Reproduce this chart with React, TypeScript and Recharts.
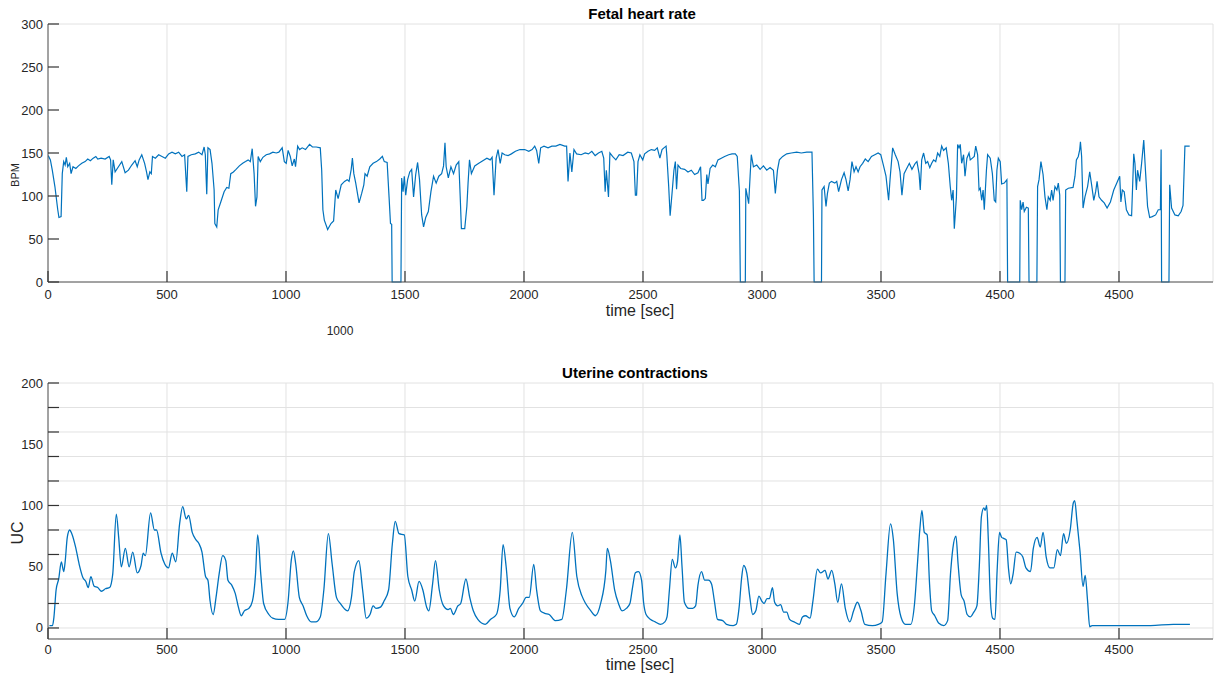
import { LineChart, Line, XAxis, YAxis, CartesianGrid } from "recharts";

const FONT = '"Liberation Sans", Arial, Helvetica, sans-serif';
const BLUE = "#0072BD";
const AXIS = "#555555";
const MARK_COLOR = "#333333";
const GRID = "#e2e2e2";
const TEXT = "#262626";
const MARK = 11;

// x axis (seconds) – the picture labels the 4000 tick "4500" as well
const X_TICKS = [0, 500, 1000, 1500, 2000, 2500, 3000, 3500, 4000, 4500];
const X_TICK_LABELS = ["0", "500", "1000", "1500", "2000", "2500", "3000", "3500", "4500", "4500"];
const X_MAX = 4895;

const FHR_TICKS = [0, 50, 100, 150, 200, 250, 300];
const UC_LABEL_TICKS = [0, 50, 100, 150, 200];
const UC_GRID_TICKS = [0, 20, 40, 60, 80, 100, 120, 140, 160, 180, 200];
const UC_ALL_TICKS = [0, 20, 40, 50, 60, 80, 100, 120, 140, 150, 160, 180, 200];

// fetal heart rate
const FHR_TIME = [
  1, 10, 18, 29, 41, 46, 55, 60, 66, 72, 77, 83, 91, 97, 105, 117, 128, 142, 156, 167, 178, 190, 201, 209, 223, 240,
  257, 263, 268, 274, 282, 296, 310, 324, 338, 352, 366, 375, 383, 394, 406, 414, 420, 428, 434, 439, 451, 465, 479,
  493, 507, 521, 535, 549, 563, 574, 583, 588, 602, 619, 633, 647, 656, 661, 667, 672, 681, 689, 698, 701, 709, 715,
  726, 740, 751, 760, 768, 779, 790, 804, 818, 830, 841, 850, 858, 866, 872, 878, 883, 892, 903, 917, 931, 945, 959,
  970, 984, 993, 1001, 1009, 1018, 1026, 1035, 1040, 1049, 1057, 1068, 1082, 1099, 1111, 1127, 1144, 1150, 1155, 1161,
  1175, 1189, 1200, 1209, 1219, 1232, 1246, 1257, 1265, 1274, 1279, 1285, 1293, 1307, 1318, 1327, 1332, 1341, 1352,
  1366, 1380, 1394, 1405, 1413, 1425, 1433, 1439, 1444, 1446, 1483, 1486, 1492, 1497, 1503, 1511, 1520, 1528, 1536,
  1545, 1553, 1561, 1570, 1578, 1587, 1598, 1609, 1620, 1631, 1642, 1654, 1662, 1668, 1673, 1682, 1693, 1704, 1715,
  1726, 1732, 1737, 1751, 1760, 1765, 1771, 1779, 1793, 1810, 1827, 1844, 1858, 1866, 1874, 1883, 1891, 1900, 1908,
  1919, 1933, 1947, 1964, 1983, 2003, 2020, 2034, 2045, 2053, 2062, 2070, 2084, 2101, 2117, 2134, 2151, 2171, 2179,
  2185, 2193, 2201, 2210, 2221, 2240, 2257, 2271, 2285, 2299, 2313, 2327, 2335, 2341, 2346, 2355, 2361, 2372, 2386,
  2400, 2416, 2436, 2451, 2462, 2468, 2473, 2479, 2487, 2499, 2507, 2521, 2535, 2549, 2560, 2571, 2580, 2588, 2597,
  2600, 2608, 2614, 2622, 2630, 2636, 2641, 2647, 2658, 2675, 2689, 2703, 2717, 2731, 2742, 2748, 2754, 2762, 2768,
  2773, 2782, 2793, 2804, 2815, 2829, 2843, 2860, 2874, 2888, 2896, 2905, 2909, 2930, 2932, 2939, 2944, 2950, 2955,
  2964, 2978, 2992, 3006, 3020, 3034, 3048, 3056, 3065, 3073, 3087, 3104, 3123, 3146, 3165, 3188, 3210, 3216, 3219,
  3250, 3252, 3261, 3269, 3275, 3283, 3292, 3306, 3314, 3322, 3334, 3345, 3353, 3362, 3370, 3378, 3387, 3395, 3404,
  3412, 3423, 3434, 3446, 3460, 3474, 3488, 3499, 3510, 3521, 3532, 3538, 3549, 3560, 3572, 3580, 3588, 3597, 3608,
  3619, 3630, 3644, 3651, 3660, 3665, 3671, 3679, 3688, 3696, 3705, 3713, 3721, 3730, 3738, 3747, 3755, 3763, 3774,
  3783, 3791, 3797, 3803, 3808, 3817, 3822, 3828, 3833, 3839, 3847, 3853, 3861, 3870, 3875, 3884, 3892, 3898, 3906,
  3912, 3917, 3923, 3929, 3934, 3943, 3948, 3959, 3968, 3976, 3982, 3987, 3993, 4001, 4007, 4018, 4029, 4032, 4083,
  4085, 4091, 4097, 4102, 4111, 4119, 4122, 4155, 4158, 4164, 4172, 4181, 4189, 4197, 4203, 4211, 4217, 4223, 4231,
  4239, 4245, 4251, 4254, 4273, 4276, 4287, 4307, 4315, 4321, 4329, 4335, 4338, 4343, 4349, 4357, 4368, 4377, 4385,
  4394, 4402, 4408, 4416, 4427, 4438, 4450, 4464, 4478, 4489, 4503, 4508, 4514, 4522, 4531, 4542, 4553, 4562, 4567,
  4573, 4578, 4587, 4595, 4604, 4612, 4620, 4629, 4640, 4654, 4665, 4674, 4677, 4679, 4710, 4713, 4721, 4735, 4749,
  4761, 4769, 4777, 4797,
];
const FHR_BPM = [
  147, 142, 130, 111, 84, 75, 76, 126, 140, 136, 145, 134, 138, 126, 134, 132, 135, 138, 140, 143, 141, 144, 146, 143,
  144, 143, 146, 142, 113, 142, 128, 134, 140, 127, 130, 136, 141, 134, 142, 148, 138, 128, 119, 128, 126, 146, 144,
  148, 146, 144, 149, 151, 149, 151, 146, 148, 105, 146, 148, 149, 151, 148, 157, 148, 102, 156, 154, 138, 107, 68, 64,
  84, 93, 105, 110, 109, 126, 128, 131, 135, 138, 140, 142, 140, 155, 126, 88, 99, 146, 140, 145, 148, 149, 151, 150,
  151, 156, 140, 138, 153, 146, 135, 143, 134, 158, 154, 156, 154, 160, 157, 157, 156, 130, 84, 72, 61, 68, 71, 107,
  97, 113, 117, 119, 117, 131, 144, 126, 115, 92, 103, 113, 126, 123, 134, 138, 140, 143, 146, 140, 139, 99, 68, 67, 0,
  0, 121, 105, 123, 101, 119, 128, 131, 99, 125, 139, 119, 78, 64, 75, 82, 105, 123, 115, 123, 126, 135, 162, 134, 121,
  134, 126, 136, 140, 99, 62, 62, 88, 115, 142, 126, 135, 138, 141, 144, 142, 145, 101, 144, 154, 138, 150, 148, 147,
  149, 152, 154, 154, 152, 154, 158, 153, 138, 156, 158, 156, 158, 158, 160, 158, 158, 117, 150, 128, 154, 149, 148,
  150, 149, 152, 147, 150, 152, 144, 105, 130, 99, 150, 146, 142, 148, 147, 151, 150, 140, 101, 101, 140, 148, 142,
  149, 152, 154, 153, 156, 144, 154, 156, 158, 148, 111, 77, 103, 130, 140, 108, 136, 132, 131, 128, 130, 125, 127,
  134, 95, 95, 97, 125, 114, 132, 136, 134, 142, 144, 146, 148, 149, 149, 146, 106, 0, 0, 109, 99, 91, 123, 148, 134,
  136, 131, 135, 130, 133, 130, 103, 130, 142, 146, 149, 150, 151, 150, 151, 151, 78, 0, 0, 107, 111, 88, 103, 115,
  117, 115, 117, 105, 119, 127, 119, 106, 119, 140, 128, 134, 128, 134, 138, 143, 140, 146, 148, 150, 148, 136, 123,
  95, 119, 156, 148, 140, 128, 101, 126, 132, 138, 131, 138, 140, 126, 107, 142, 150, 138, 140, 133, 138, 142, 140,
  150, 146, 158, 153, 156, 138, 111, 95, 107, 62, 99, 160, 156, 160, 138, 148, 123, 144, 150, 142, 144, 146, 158, 148,
  107, 109, 95, 107, 84, 130, 148, 144, 126, 95, 93, 130, 144, 140, 114, 115, 119, 0, 0, 95, 84, 93, 82, 87, 86, 0, 0,
  111, 119, 140, 125, 99, 84, 99, 95, 107, 95, 111, 107, 115, 101, 0, 0, 107, 109, 110, 123, 142, 146, 154, 163, 146,
  86, 99, 111, 128, 113, 95, 105, 117, 99, 95, 92, 86, 93, 107, 114, 123, 93, 107, 105, 84, 78, 77, 149, 138, 107, 130,
  117, 138, 165, 126, 88, 75, 76, 78, 84, 84, 154, 0, 0, 113, 86, 78, 77, 82, 89, 158, 158,
];

// uterine contractions
const UC_TIME = [
  6, 19, 25, 34, 45, 56, 66, 72, 81, 91, 100, 116, 131, 147, 159, 169, 180, 194, 209, 225, 241, 259, 272, 287, 297,
  308, 325, 341, 356, 375, 391, 400, 409, 431, 447, 456, 475, 491, 506, 522, 537, 553, 566, 581, 591, 606, 622, 634,
  647, 662, 672, 681, 694, 706, 719, 734, 747, 756, 772, 787, 800, 812, 825, 844, 859, 872, 881, 894, 906, 928, 944,
  969, 994, 1009, 1022, 1031, 1041, 1056, 1072, 1087, 1106, 1125, 1144, 1159, 1178, 1194, 1212, 1228, 1244, 1259, 1275,
  1287, 1306, 1322, 1337, 1353, 1366, 1378, 1397, 1412, 1431, 1447, 1459, 1475, 1497, 1512, 1528, 1541, 1559, 1575,
  1591, 1600, 1616, 1628, 1644, 1662, 1681, 1691, 1703, 1722, 1734, 1756, 1772, 1787, 1806, 1837, 1859, 1884, 1900,
  1912, 1925, 1941, 1959, 1978, 1994, 2009, 2022, 2041, 2053, 2069, 2087, 2106, 2131, 2159, 2178, 2203, 2222, 2244,
  2259, 2281, 2300, 2322, 2344, 2350, 2363, 2381, 2397, 2412, 2430, 2445, 2456, 2468, 2481, 2494, 2503, 2513, 2532,
  2551, 2573, 2592, 2601, 2611, 2623, 2636, 2645, 2655, 2664, 2674, 2693, 2709, 2721, 2731, 2746, 2759, 2775, 2788,
  2800, 2813, 2835, 2851, 2879, 2892, 2904, 2914, 2923, 2936, 2949, 2961, 2974, 2987, 2999, 3009, 3021, 3031, 3044,
  3053, 3066, 3078, 3091, 3104, 3116, 3135, 3157, 3170, 3183, 3202, 3214, 3233, 3246, 3265, 3277, 3293, 3306, 3318,
  3334, 3350, 3369, 3385, 3401, 3416, 3432, 3464, 3489, 3505, 3521, 3540, 3552, 3568, 3584, 3603, 3625, 3641, 3653,
  3663, 3672, 3682, 3694, 3704, 3713, 3726, 3742, 3764, 3780, 3792, 3802, 3815, 3824, 3837, 3849, 3862, 3875, 3890,
  3903, 3913, 3922, 3932, 3938, 3944, 3951, 3960, 3969, 3979, 3988, 3998, 4007, 4017, 4026, 4036, 4045, 4055, 4068,
  4083, 4096, 4109, 4128, 4140, 4156, 4169, 4181, 4194, 4210, 4226, 4241, 4254, 4267, 4279, 4295, 4308, 4314, 4323,
  4336, 4349, 4358, 4368, 4377, 4387, 4475, 4633, 4728, 4798,
];
const UC_VALUE = [
  2, 2, 9, 31, 40, 54, 46, 54, 74, 80, 77, 66, 52, 41, 38, 33, 42, 34, 33, 30, 32, 33, 44, 93, 74, 50, 65, 50, 62, 45,
  51, 61, 59, 94, 80, 80, 61, 52, 49, 61, 54, 85, 99, 89, 92, 78, 72, 69, 62, 42, 39, 22, 11, 25, 44, 59, 55, 39, 35,
  28, 17, 10, 14, 16, 22, 44, 76, 44, 20, 11, 8, 7, 7, 22, 55, 63, 52, 25, 18, 10, 5, 5, 9, 31, 77, 52, 25, 20, 16, 14,
  25, 46, 55, 31, 8, 11, 18, 16, 17, 22, 31, 69, 87, 77, 76, 42, 31, 22, 38, 31, 17, 14, 36, 55, 31, 18, 15, 16, 11, 18,
  20, 40, 25, 14, 7, 3, 7, 11, 31, 68, 50, 16, 9, 16, 20, 25, 25, 52, 31, 14, 12, 11, 6, 7, 31, 78, 42, 26, 20, 14, 10,
  20, 47, 65, 55, 31, 20, 14, 16, 20, 33, 45, 46, 39, 20, 11, 7, 5, 3, 5, 9, 31, 56, 49, 54, 76, 50, 21, 16, 16, 18, 35,
  46, 39, 39, 36, 22, 7, 6, 3, 2, 3, 17, 40, 51, 45, 25, 11, 14, 26, 22, 20, 24, 24, 33, 21, 18, 19, 13, 13, 7, 5, 3,
  9, 10, 8, 22, 48, 45, 47, 40, 47, 36, 21, 36, 16, 5, 14, 21, 14, 3, 2, 3, 5, 44, 85, 72, 28, 9, 3, 3, 20, 52, 80, 96,
  78, 76, 36, 14, 10, 4, 2, 6, 44, 65, 75, 52, 27, 22, 11, 9, 13, 18, 50, 91, 98, 96, 100, 72, 22, 8, 7, 47, 78, 74, 73,
  72, 48, 36, 44, 62, 61, 58, 49, 46, 65, 74, 66, 78, 58, 49, 49, 64, 59, 77, 69, 80, 102, 104, 88, 63, 34, 43, 22, 1,
  2, 2, 2, 3, 3,
];

const fhrData = FHR_TIME.map((t, i) => ({ t, v: FHR_BPM[i] }));
const ucData = UC_TIME.map((t, i) => ({ t, v: UC_VALUE[i] }));

const xLabel = (v: number) => X_TICK_LABELS[X_TICKS.indexOf(v)] ?? String(v);

// MATLAB-style ticks: short marks pointing into the plot, labels outside
const yTick = (labels: number[] | null, marks: number[], side: "left" | "right") => (props: any) => {
  const { x, y, payload } = props;
  const v = payload.value as number;
  const dir = side === "left" ? 1 : -1;
  return (
    <g>
      {marks.includes(v) && (
        <line x1={x} x2={x + dir * MARK} y1={y} y2={y} stroke={MARK_COLOR} strokeWidth={1.2} />
      )}
      {labels && labels.includes(v) && (
        <text
          x={x - 5}
          y={y}
          textAnchor="end"
          dominantBaseline="central"
          fill={TEXT}
          fontSize={13}
          fontFamily={FONT}
        >
          {v}
        </text>
      )}
    </g>
  );
};

const xTick = (withLabel: boolean, side: "bottom" | "top", labelGap: number) => (props: any) => {
  const { x, y, payload } = props;
  const v = payload.value as number;
  const dir = side === "bottom" ? -1 : 1;
  return (
    <g>
      <line x1={x} x2={x} y1={y} y2={y + dir * MARK} stroke={MARK_COLOR} strokeWidth={1.2} />
      {withLabel && (
        <text x={x} y={y + labelGap} dy="0.71em" textAnchor="middle" fill={TEXT} fontSize={13} fontFamily={FONT}>
          {xLabel(v)}
        </text>
      )}
    </g>
  );
};

const textStyle = (x: number, y: number, size: number, bold = false, rotate = false): React.CSSProperties => ({
  position: "absolute",
  left: x,
  top: y,
  transform: `translate(-50%, -50%)${rotate ? " rotate(-90deg)" : ""}`,
  fontFamily: FONT,
  fontSize: size,
  lineHeight: `${size}px`,
  fontWeight: bold ? "bold" : "normal",
  color: bold ? "#000" : TEXT,
  whiteSpace: "nowrap",
});

const axisCommon = {
  tickSize: 0,
  tickMargin: 0,
  tickLine: false,
  interval: 0 as const,
  axisLine: { stroke: AXIS },
};

const App = () => (
  <div
    style={{
      position: "absolute",
      left: 0,
      top: 0,
      width: 1214,
      height: 679,
      background: "#fff",
      overflow: "hidden",
    }}
  >
    <div style={{ position: "absolute", left: 0, top: 0 }}>
      <LineChart width={1214} height={320} data={fhrData} margin={{ top: 24, right: 1, bottom: 0, left: 8 }}>
        <CartesianGrid stroke={GRID} xAxisId="b" yAxisId="r" />
        <XAxis
          {...axisCommon}
          xAxisId="b"
          dataKey="t"
          type="number"
          domain={[0, X_MAX]}
          allowDataOverflow
          ticks={X_TICKS}
          tick={xTick(true, "bottom", 8)}
          height={38}
        />
        <XAxis
          {...axisCommon}
          xAxisId="t"
          orientation="top"
          dataKey="t"
          type="number"
          domain={[0, X_MAX]}
          allowDataOverflow
          ticks={X_TICKS}
          tick={xTick(false, "top", 0)}
          height={0}
        />
        <YAxis
          {...axisCommon}
          yAxisId="l"
          type="number"
          domain={[0, 300]}
          ticks={FHR_TICKS}
          tick={yTick(FHR_TICKS, FHR_TICKS, "left")}
          width={40}
        />
        <YAxis
          {...axisCommon}
          yAxisId="r"
          orientation="right"
          type="number"
          domain={[0, 300]}
          ticks={FHR_TICKS}
          tick={yTick(null, FHR_TICKS, "right")}
          width={0}
        />
        <Line
          xAxisId="b"
          yAxisId="l"
          type="linear"
          dataKey="v"
          stroke={BLUE}
          strokeWidth={1.2}
          dot={false}
          isAnimationActive={false}
        />
      </LineChart>
    </div>

    <div style={{ position: "absolute", left: 0, top: 340 }}>
      <LineChart width={1214} height={339} data={ucData} margin={{ top: 43, right: 1, bottom: 0, left: 8 }}>
        <CartesianGrid stroke={GRID} xAxisId="b" yAxisId="r" />
        <XAxis
          {...axisCommon}
          xAxisId="b"
          dataKey="t"
          type="number"
          domain={[0, X_MAX]}
          allowDataOverflow
          ticks={X_TICKS}
          tick={xTick(true, "bottom", 6)}
          height={40}
        />
        <XAxis
          {...axisCommon}
          xAxisId="t"
          orientation="top"
          dataKey="t"
          type="number"
          domain={[0, X_MAX]}
          allowDataOverflow
          ticks={X_TICKS}
          tick={xTick(false, "top", 0)}
          height={0}
        />
        <YAxis
          {...axisCommon}
          yAxisId="l"
          type="number"
          domain={[-9, 200]}
          allowDataOverflow
          ticks={UC_ALL_TICKS}
          tick={yTick(UC_LABEL_TICKS, UC_GRID_TICKS, "left")}
          width={40}
        />
        <YAxis
          {...axisCommon}
          yAxisId="r"
          orientation="right"
          type="number"
          domain={[-9, 200]}
          allowDataOverflow
          ticks={UC_GRID_TICKS}
          tick={yTick(null, UC_GRID_TICKS, "right")}
          width={0}
        />
        <Line
          xAxisId="b"
          yAxisId="l"
          type="monotone"
          dataKey="v"
          stroke={BLUE}
          strokeWidth={1.3}
          dot={false}
          isAnimationActive={false}
        />
      </LineChart>
    </div>

    <div style={textStyle(642, 13, 15, true)}>Fetal heart rate</div>
    <div style={textStyle(635, 372, 15, true)}>Uterine contractions</div>
    <div style={textStyle(640, 311, 16)}>time [sec]</div>
    <div style={textStyle(640, 665, 16)}>time [sec]</div>
    <div style={textStyle(15, 175, 11, false, true)}>BPM</div>
    <div style={textStyle(18, 533, 16, false, true)}>UC</div>
    <div style={textStyle(340, 331, 12)}>1000</div>
  </div>
);

export default App;
